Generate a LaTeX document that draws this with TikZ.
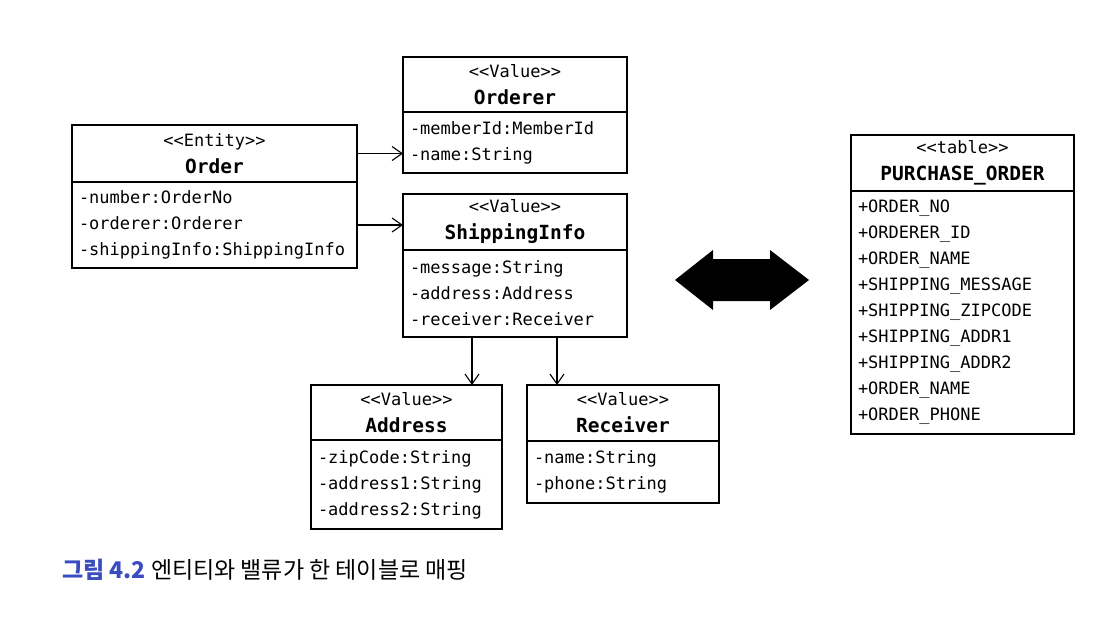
\documentclass[tikz,border=0pt]{standalone}
\usepackage{fontspec}
\newfontfamily\umlfont[Ligatures=TeXOff]{DejaVu Sans Mono}
\newfontfamily\krfont{Noto Sans CJK KR}
\usetikzlibrary{arrows.meta,positioning}
\definecolor{figblue}{RGB}{59,76,192}
\tikzset{
	umlhead/.style={draw, line width=1.1pt, outer sep=0pt, inner sep=0pt, anchor=north west, align=center, font=\umlfont\fontsize{17}{26}\selectfont},
	umlbody/.style={draw, line width=1.1pt, outer sep=0pt, inner xsep=7pt, inner ysep=0pt, anchor=north west, align=left, font=\umlfont\fontsize{17}{26}\selectfont},
	assoc/.style={line width=1.1pt, -{Straight Barb[length=10pt,width=14pt,line width=1.1pt]}}
}
\newcommand{\umlname}[1]{\\[1pt]{\fontsize{19.5}{20}\selectfont\bfseries #1}}
\begin{document}
\begin{tikzpicture}[x=1pt,y=-1pt]
	\useasboundingbox (0,0) rectangle (1114,632);
	% entity
	\node[umlhead, minimum width=285pt, minimum height=57pt] (orderH) at (72,125) {<<Entity>>\umlname{Order}};
	\node[umlbody, minimum height=86pt, text width=271pt] (orderB) at (orderH.south west) {-number:OrderNo\\-orderer:Orderer\\-shippingInfo:ShippingInfo};
	% values
	\node[umlhead, minimum width=224pt, minimum height=55pt] (ordererH) at (403,57) {<<Value>>\umlname{Orderer}};
	\node[umlbody, minimum height=61pt, text width=210pt] (ordererB) at (ordererH.south west) {-memberId:MemberId\\-name:String};
	\node[umlhead, minimum width=224pt, minimum height=56pt] (shipH) at (403,194) {<<Value>>\umlname{ShippingInfo}};
	\node[umlbody, minimum height=87pt, text width=210pt] (shipB) at (shipH.south west) {-message:String\\-address:Address\\-receiver:Receiver};
	\node[umlhead, minimum width=191pt, minimum height=55pt] (addrH) at (311,385) {<<Value>>\umlname{Address}};
	\node[umlbody, minimum height=89pt, text width=177pt] (addrB) at (addrH.south west) {-zipCode:String\\-address1:String\\-address2:String};
	\node[umlhead, minimum width=192pt, minimum height=56pt] (recvH) at (527,385) {<<Value>>\umlname{Receiver}};
	\node[umlbody, minimum height=62pt, text width=178pt] (recvB) at (recvH.south west) {-name:String\\-phone:String};
	% table
	\node[umlhead, minimum width=223pt, minimum height=56pt] (tableH) at (851,135) {<<table>>\umlname{PURCHASE\_ORDER}};
	\node[umlbody, minimum height=243pt, text width=209pt] (tableB) at (tableH.south west) {+ORDER\_NO\\+ORDERER\_ID\\+ORDER\_NAME\\+SHIPPING\_MESSAGE\\+SHIPPING\_ZIPCODE\\+SHIPPING\_ADDR1\\+SHIPPING\_ADDR2\\+ORDER\_NAME\\+ORDER\_PHONE};
	% associations
	\draw[assoc] (orderH.east) -- (ordererB.west |- orderH.east);
	\draw[assoc] (orderB.east) -- (shipH.west |- orderB.east);
	\draw[assoc] ([xshift=-43pt]shipB.south) -- ([xshift=-43pt]shipB.south |- addrH.north);
	\draw[assoc] ([xshift=42pt]shipB.south) -- ([xshift=42pt]shipB.south |- recvH.north);
	% mapping arrow
	\fill (675,280) -- (713,250) -- (713,259) -- (770,259) -- (770,250) -- (809,280) -- (770,310) -- (770,301) -- (713,301) -- (713,310) -- cycle;
	\node[anchor=base west, inner sep=0pt, font=\krfont\fontsize{23}{27}\selectfont] (caption) at (62,578) {\textcolor{figblue}{\bfseries 그림 4.2} 엔티티와 밸류가 한 테이블로 매핑};
\end{tikzpicture}
\end{document}
